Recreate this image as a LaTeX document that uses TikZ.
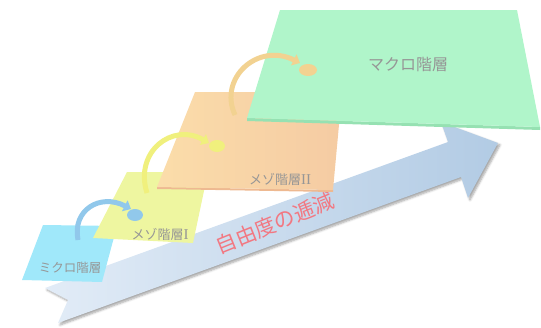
\documentclass[tikz,border=0pt]{standalone}
\usepackage{fontspec}
\setmainfont{Noto Sans CJK JP}
\newfontfamily\romfont{Liberation Serif}
\usetikzlibrary{shadows.blur,arrows.meta}
\definecolor{arrowL}{RGB}{226,236,247}
\definecolor{arrowR}{RGB}{178,203,228}
\definecolor{cyanL}{RGB}{160,232,250}
\definecolor{yellowL}{RGB}{238,246,160}
\definecolor{orangeL}{RGB}{251,221,170}
\definecolor{orangeR}{RGB}{245,203,163}
\definecolor{orangeE}{RGB}{238,185,145}
\definecolor{greenL}{RGB}{176,245,202}
\definecolor{greenE}{RGB}{150,225,178}
\definecolor{pinkT}{RGB}{242,120,130}
\definecolor{greyT}{RGB}{150,150,150}
\definecolor{arcBlue}{RGB}{145,200,235}
\definecolor{arcYellow}{RGB}{240,240,125}
\definecolor{arcTan}{RGB}{242,210,145}
\newcommand{\romnum}[1]{{\romfont\fontsize{15}{15}\selectfont #1}}
\tikzset{
  lbl/.style={text=greyT, inner sep=0pt},
  arc/.style={line width=5pt, -{Triangle[length=7pt,width=12pt]}},
  dotmark/.style={fill=#1, draw=none}
}
\begin{document}
\begin{tikzpicture}[x=1pt,y=-1pt]
\useasboundingbox (0,0) rectangle (541,327);
% big arrow
\path[blur shadow={shadow xshift=2pt,shadow yshift=-2pt,shadow blur steps=6,shadow opacity=35},
      left color=arrowL, right color=arrowR]
  (45,288) -- (448,142) -- (441,122) -- (498,143) -- (468,198) -- (461,177) -- (58,323) -- (68,300) -- cycle;
\node[text=pinkT, rotate=22, inner sep=0pt, font=\fontsize{21}{21}\selectfont] (free) at (275,223) {自由度の逓減};
% micro layer
\fill[cyanL] (43,225) -- (117,226) -- (102,282) -- (22,280) -- cycle;
\node[lbl, font=\fontsize{12.5}{12.5}\selectfont] (micro) at (70,268) {ミクロ階層};
% meso I layer
\fill[yellowL] (127,172) -- (208,172) -- (193,243) -- (93,238) -- cycle;
\node[lbl, font=\fontsize{13}{13}\selectfont] (meso1) at (160,234) {メゾ階層\romnum{I}};
% meso II layer
\fill[orangeE] (157,187) -- (333,190) -- (333,192) -- (157,189) -- cycle;
\shade[left color=orangeL, right color=orangeR] (195,92) -- (342,92) -- (333,190) -- (157,187) -- cycle;
\node[lbl, font=\fontsize{13}{13}\selectfont] (meso2) at (280,179) {メゾ階層\romnum{II}};
% macro layer
\fill[greenE] (247,118) -- (540,127) -- (540,130) -- (247,121) -- cycle;
\fill[greenL] (280,10) -- (517,10) -- (540,127) -- (247,118) -- cycle;
\node[lbl, font=\fontsize{16}{16}\selectfont] (macro) at (408,65) {マクロ階層};
% curved arrows
\coordinate (a1s) at (78,240); \coordinate (a1e) at (131,209);
\coordinate (a2s) at (147,193); \coordinate (a2e) at (209,143);
\coordinate (a3s) at (235,115); \coordinate (a3e) at (300,63);
\draw[arc, draw=arcBlue] (a1s) .. controls (72,210) and (100,193) .. (a1e);
\fill[dotmark=arcBlue] (135,215) ellipse [x radius=8, y radius=6];
\draw[arc, draw=arcYellow] (a2s) .. controls (134,152) and (172,122) .. (a2e);
\fill[dotmark=arcYellow] (217,146) ellipse [x radius=8, y radius=6];
\draw[arc, draw=arcTan] (a3s) .. controls (218,78) and (258,42) .. (a3e);
\fill[dotmark=arcTan] (308,70) ellipse [x radius=9, y radius=6];
\end{tikzpicture}
\end{document}
